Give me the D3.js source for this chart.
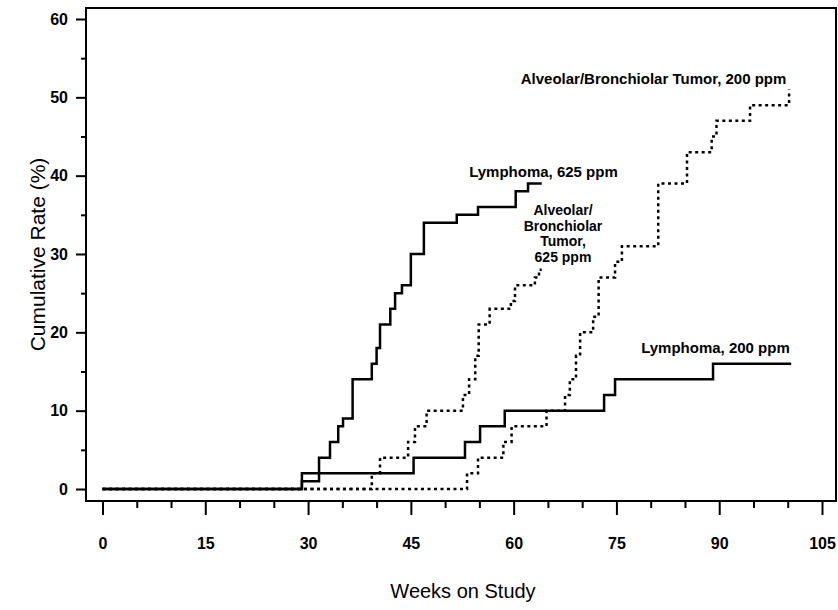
<!DOCTYPE html>
<html>
<head>
<meta charset="utf-8">
<script src="https://cdn.jsdelivr.net/npm/d3@7"></script>
<style>
	body { margin: 0; background: #fff; }
	svg { display: block; }
	text { font-family: "Liberation Sans", Arial, sans-serif; fill: #000; }
</style>
</head>
<body>
<svg width="838" height="610"></svg>
<script>
/*
 * Cumulative tumor rates by week on study
 */

var xTicks = [0, 15, 30, 45, 60, 75, 90, 105];
var yTicks = [0, 10, 20, 30, 40, 50, 60];
var xMinorTicks = [5, 10, 20, 25, 35, 40, 50, 55, 65, 70, 80, 85, 95, 100];
var yMinorTicks = [5, 15, 25, 35, 45, 55];

// [week, cumulative %]
var lymphoma625 = [
	[0, 0], [29.1, 1], [31.6, 4], [33.2, 6], [34.4, 8], [35.1, 9], [36.5, 14],
	[39.3, 16], [40.0, 18], [40.5, 21], [42.0, 23], [42.7, 25], [43.7, 26],
	[45.0, 30], [46.9, 34], [51.7, 35], [54.8, 36], [60.3, 38], [62.1, 39], [64.1, 39]
];
var lymphoma200 = [
	[0, 0], [29.1, 2], [45.4, 4], [52.9, 6], [55.1, 8], [58.7, 10], [73.2, 12],
	[74.8, 14], [89.1, 16], [100.5, 16]
];
var alveolar625 = [
	[0, 0], [39.3, 2], [40.5, 4], [44.6, 6], [45.6, 8], [47.3, 10], [52.6, 12],
	[53.5, 14], [54.4, 17], [54.9, 21], [56.5, 23], [59.6, 24], [60.2, 26],
	[63.1, 27], [63.7, 28], [64.1, 28]
];
var alveolar200 = [
	[0, 0], [53.2, 2], [54.8, 4], [58.5, 6], [59.7, 8], [64.8, 10], [67.5, 12],
	[68.2, 14], [69.1, 17], [69.7, 20], [71.6, 22], [72.4, 27], [74.8, 29],
	[75.8, 31], [81.1, 39], [85.3, 43], [88.9, 45], [89.6, 47], [94.5, 49], [100.2, 51]
];

var svg = d3.select('svg');

var frame = { left: 86, right: 836, top: 8, bottom: 501 };

var x = d3.scaleLinear().domain([0, 105]).range([102.5, 822]);
var y = d3.scaleLinear().domain([0, 60]).range([489, 19]);

svg.append('rect')
	.attr('x', frame.left)
	.attr('y', frame.top)
	.attr('width', frame.right - frame.left)
	.attr('height', frame.bottom - frame.top)
	.attr('fill', 'none')
	.attr('stroke', '#000')
	.attr('stroke-width', 2);

var styleAxis = function (g) {
	g.select('.domain').remove();
	g.selectAll('line').attr('stroke', '#000').attr('stroke-width', 2);
	g.selectAll('text')
		.style('font-size', '16px')
		.style('font-weight', 'bold');
};

svg.append('g')
	.attr('transform', 'translate(0,' + frame.bottom + ')')
	.call(d3.axisBottom(x).tickValues(xTicks).tickSize(14).tickPadding(23).tickFormat(d3.format('d')))
	.call(styleAxis);

svg.append('g')
	.attr('transform', 'translate(0,' + frame.bottom + ')')
	.call(d3.axisBottom(x).tickValues(xMinorTicks).tickSize(7).tickFormat(''))
	.call(styleAxis);

svg.append('g')
	.attr('transform', 'translate(' + frame.left + ',0)')
	.call(d3.axisLeft(y).tickValues(yTicks).tickSize(10).tickPadding(8).tickFormat(d3.format('d')))
	.call(styleAxis);

svg.append('g')
	.attr('transform', 'translate(' + frame.left + ',0)')
	.call(d3.axisLeft(y).tickValues(yMinorTicks).tickSize(5).tickFormat(''))
	.call(styleAxis);

var line = d3.line()
	.x(function (d) { return x(d[0]); })
	.y(function (d) { return y(d[1]); })
	.curve(d3.curveStepAfter);

var drawSeries = function (data, dotted) {
	svg.append('path')
		.datum(data)
		.attr('d', line)
		.attr('fill', 'none')
		.attr('stroke', '#000')
		.attr('stroke-width', 2.5)
		.attr('stroke-dasharray', dotted ? '3,3.5' : null);
};

drawSeries(alveolar200, true);
drawSeries(alveolar625, true);
drawSeries(lymphoma200, false);
drawSeries(lymphoma625, false);

var label = function (lines, px, py, anchor, size, gap) {
	var t = svg.append('text')
		.attr('x', px)
		.attr('y', py)
		.attr('text-anchor', anchor)
		.style('font-size', size + 'px')
		.style('font-weight', 'bold');
	lines.forEach(function (s, i) {
		t.append('tspan')
			.attr('x', px)
			.attr('dy', i === 0 ? 0 : gap)
			.text(s);
	});
};

label(['Alveolar/Bronchiolar Tumor, 200 ppm'], x(99.8), 84, 'end', 15, 0);
label(['Lymphoma, 625 ppm'], x(75.2), 177, 'end', 15, 0);
label(['Alveolar/', 'Bronchiolar', 'Tumor,', '625 ppm'], x(67.2), 215, 'middle', 14, 15.6);
label(['Lymphoma, 200 ppm'], x(100.3), 353, 'end', 15, 0);

svg.append('text')
	.attr('transform', 'translate(45,' + ((frame.top + frame.bottom) / 2) + ') rotate(-90)')
	.attr('text-anchor', 'middle')
	.style('font-size', '21px')
	.text('Cumulative Rate (%)');

svg.append('text')
	.attr('x', 463)
	.attr('y', 598)
	.attr('text-anchor', 'middle')
	.style('font-size', '20px')
	.text('Weeks on Study');
</script>
</body>
</html>
